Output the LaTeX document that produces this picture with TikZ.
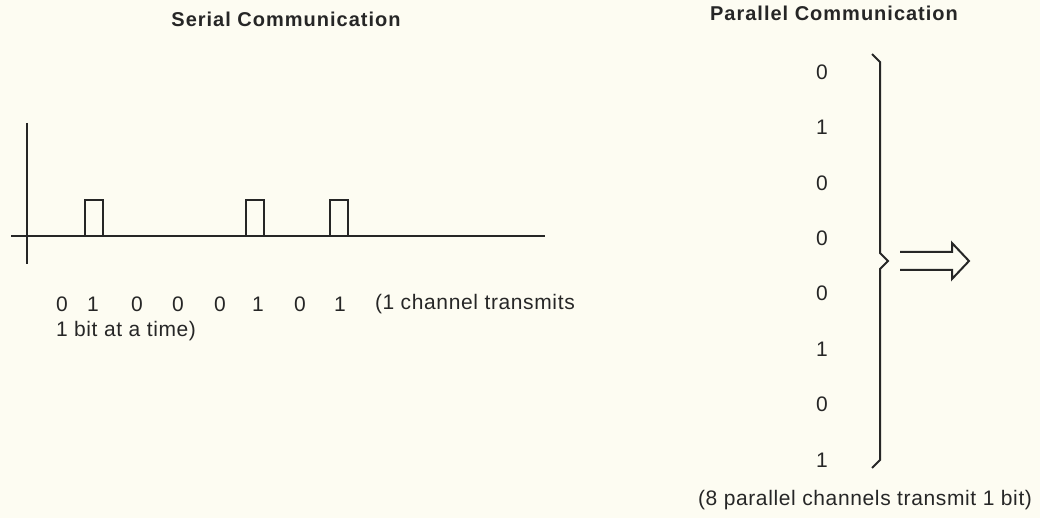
\documentclass[tikz,border=0pt]{standalone}
\usepackage{fontspec}
\setmainfont{Liberation Sans}[LetterSpace=3]
\usepackage{xcolor}
\usepackage{tikz}
\definecolor{paper}{HTML}{FDFCF2}
\definecolor{ink}{HTML}{262626}
\tikzset{
    bit/.style={inner sep=0pt, font=\fontsize{10.5}{12}\selectfont, text=ink},
    note/.style={inner sep=0pt, anchor=base west, font=\fontsize{10.5}{12}\selectfont, text=ink},
    heading/.style={inner sep=0pt, text=ink,
        font=\fontsize{10}{12}\selectfont\bfseries\addfontfeature{LetterSpace=5}},
}

\begin{document}
\begin{tikzpicture}[x=0.5pt, y=-0.5pt, line width=1pt, draw=ink]
    \fill[paper] (0,0) rectangle (1040,518);
    \useasboundingbox (0,0) rectangle (1040,518);

    \node[heading] (serialTitle) at (286,19) {Serial Communication};
    \node[heading] (parallelTitle) at (834,13) {Parallel Communication};

    % serial line
    \draw[ink] (11,236) -- (545,236);
    \draw[ink] (27,123) -- (27,264);
    \foreach \x in {94,255,339}
        \draw[ink] (\x-9,236) -- (\x-9,200) -- (\x+9,200) -- (\x+9,236);
    \foreach \x/\b [count=\i] in {62/0,93/1,137/0,178/0,220/0,258/1,300/0,340/1}
        \node[bit] (s\i) at (\x,304) {\b};
    \node[note] (serialNote) at (374,310) {(1 channel transmits};
    \node[note] (serialNoteB) at (55,337) {1 bit at a time)};

    % parallel lines
    \foreach \b [count=\i] in {0,1,0,0,0,1,0,1}
        \node[bit] (p\i) at (822,{72+55.4*(\i-1)}) {\b};
    \draw[ink] (872,54) -- (880,62) -- (880,253) -- (888,261)
        -- (880,269) -- (880,460) -- (872,468);
    \draw[ink] (900,252) -- (952,252) -- (952,243) -- (969,261)
        -- (952,279) -- (952,270) -- (900,270);
    \node[note] (parallelNote) at (697,505) {(8 parallel channels transmit 1 bit)};
\end{tikzpicture}
\end{document}
